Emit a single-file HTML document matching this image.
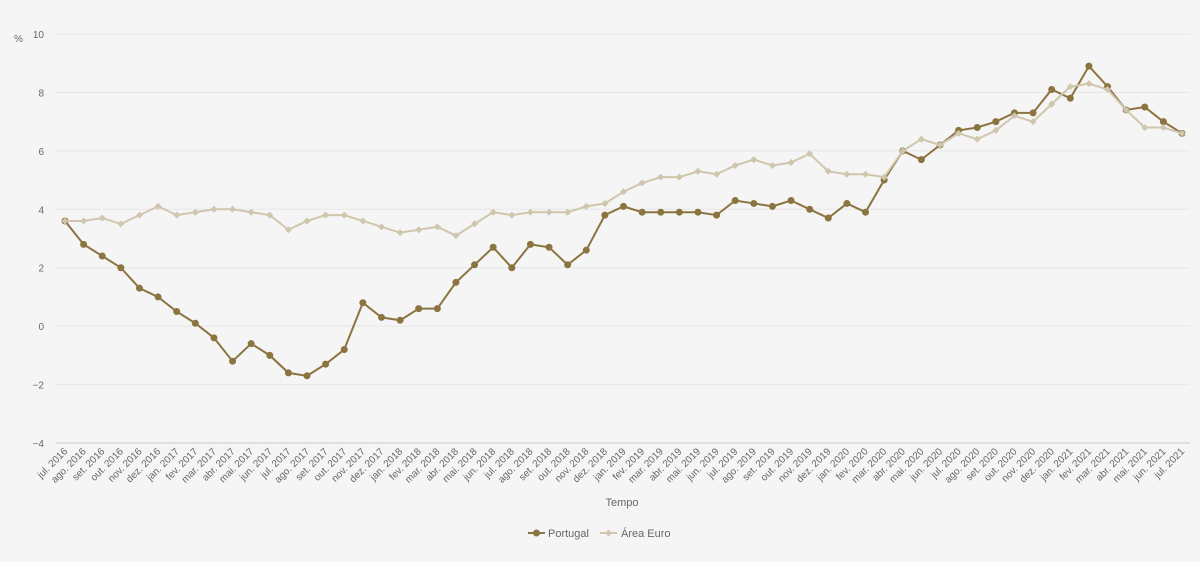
<!DOCTYPE html>
<html><head><meta charset="utf-8"><style>
body{margin:0;background:#f5f5f5;font-family:"Liberation Sans",sans-serif}
svg text{font-family:"Liberation Sans",sans-serif;fill:#666}
</style></head><body>
<svg id="c" width="1200" height="557"></svg>
<script>
const months=["jan.","fev.","mar.","abr.","mai.","jun.","jul.","ago.","set.","out.","nov.","dez."];
const portugal=[3.6,2.8,2.4,2.0,1.3,1.0,
0.5,0.1,-0.4,-1.2,-0.6,-1.0,-1.6,-1.7,-1.3,-0.8,0.8,0.3,
0.2,0.6,0.6,1.5,2.1,2.7,2.0,2.8,2.7,2.1,2.6,3.8,
4.1,3.9,3.9,3.9,3.9,3.8,4.3,4.2,4.1,4.3,4.0,3.7,
4.2,3.9,5.0,6.0,5.7,6.2,6.7,6.8,7.0,7.3,7.3,8.1,
7.8,8.9,8.2,7.4,7.5,7.0,6.6];
const euro=[3.6,3.6,3.7,3.5,3.8,4.1,
3.8,3.9,4.0,4.0,3.9,3.8,3.3,3.6,3.8,3.8,3.6,3.4,
3.2,3.3,3.4,3.1,3.5,3.9,3.8,3.9,3.9,3.9,4.1,4.2,
4.6,4.9,5.1,5.1,5.3,5.2,5.5,5.7,5.5,5.6,5.9,5.3,
5.2,5.2,5.1,6.0,6.4,6.2,6.6,6.4,6.7,7.2,7.0,7.6,
8.2,8.3,8.1,7.4,6.8,6.8,6.6];
const yTicks=[-4,-2,0,2,4,6,8,10];
const categories=[];
for(let i=0;i<61;i++){const m=(6+i)%12,y=2016+Math.floor((6+i)/12);categories.push(months[m]+" "+y);}
const svg=document.getElementById('c');const NS="http://www.w3.org/2000/svg";
function mk(t,a,p){const e=document.createElementNS(NS,t);for(const k in a)e.setAttribute(k,a[k]);(p||svg).appendChild(e);return e;}
const x0=65,x1=1182,yTop=34,yBot=443;
const X=i=>x0+i*(x1-x0)/(categories.length-1);
const Y=v=>yBot-(v-(-4))*(yBot-yTop)/14;
yTicks.forEach(v=>{
 const l=mk('line',{x1:56,x2:1190,y1:Y(v),y2:Y(v),stroke:v===-4?'#ccc':'#e6e6e6','stroke-width':1});
 
 
 const t=mk('text',{x:44,y:Y(v)+4,'text-anchor':'end','font-size':10});
 t.textContent=v<0?'\u2212'+(-v):String(v);
 
 
});
const pct=mk('text',{x:14,y:42,'font-size':10});pct.textContent='%';


categories.forEach((c,i)=>{
 const t=mk('text',{x:X(i)+3,y:452,'text-anchor':'end','font-size':10,transform:`rotate(-45 ${X(i)+3} 452)`});
 t.textContent=c;
 
 
});
const tt=mk('text',{x:622,y:506,'text-anchor':'middle','font-size':11});tt.textContent='Tempo';


function series(data,color,name,dot){
 const g=mk('g',{});
 
 
 const p=mk('polyline',{points:data.map((v,i)=>X(i)+','+Y(v)).join(' '),fill:'none',stroke:color,'stroke-width':2},g);
 
 
 data.forEach((v,i)=>{
  let m;
  if(dot)m=mk('circle',{cx:X(i),cy:Y(v),r:3.5,fill:color},g);
  else{const s=3.5;m=mk('path',{d:`M${X(i)} ${Y(v)-s}L${X(i)+s} ${Y(v)}L${X(i)} ${Y(v)+s}L${X(i)-s} ${Y(v)}Z`,fill:color},g);}
  
  
 });
}
series(portugal,'#8b7440','portugal',true);
series(euro,'#cfc6ad','area-euro',false);
// legend
const lg=mk('g',{});


mk('line',{x1:528,x2:545,y1:533,y2:533,stroke:'#8b7440','stroke-width':2},lg);
mk('circle',{cx:536.5,cy:533,r:3.5,fill:'#8b7440'},lg);
const l1=mk('text',{x:548,y:537,'font-size':11},lg);l1.textContent='Portugal';


mk('line',{x1:600,x2:617,y1:533,y2:533,stroke:'#cfc6ad','stroke-width':2},lg);
mk('path',{d:'M608.5 529.5L612 533L608.5 536.5L605 533Z',fill:'#cfc6ad'},lg);
const l2=mk('text',{x:621,y:537,'font-size':11},lg);l2.textContent='Área Euro';


</script>
</body></html>
